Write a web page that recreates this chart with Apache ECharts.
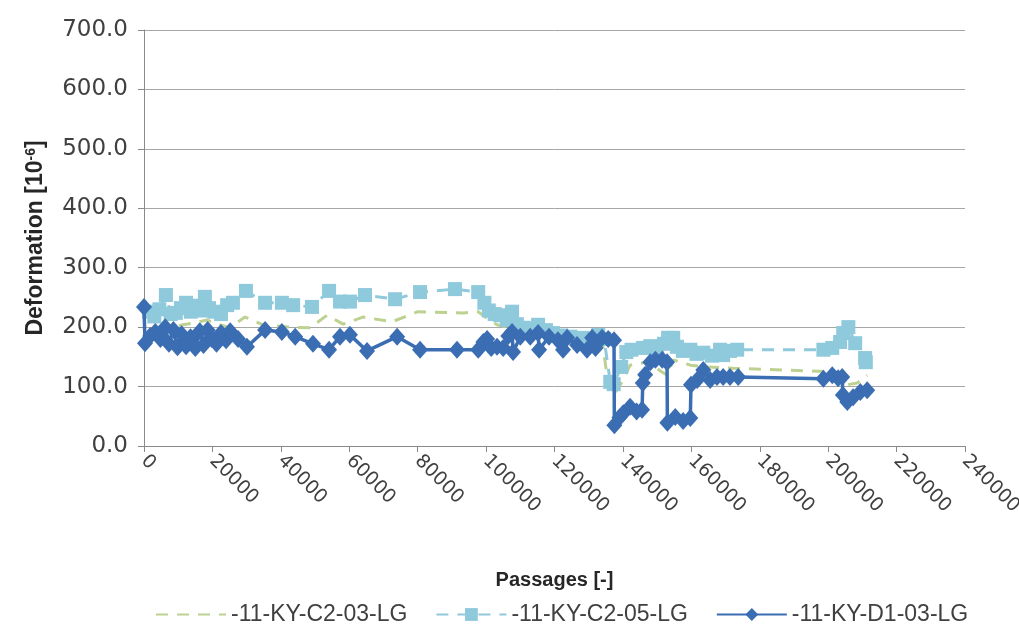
<!DOCTYPE html>
<html>
<head>
<meta charset="utf-8">
<title>Deformation vs Passages</title>
<script src="https://cdn.jsdelivr.net/npm/echarts@6.0.0/dist/echarts.min.js"></script>
<style>
  html, body { margin: 0; padding: 0; background: #fff; }
  #main { width: 1019px; height: 632px; }
</style>
</head>
<body>
<div id="main"></div>
<script>
// -11-KY-C2-03-LG (dashed green, no markers)
const c203X = [0, 2500, 5000, 8000, 11400, 14500, 18400, 21500, 25100, 29500, 34800, 42700, 48500, 53500, 58200, 64000, 72500, 80100, 93300, 97700, 100000, 103200, 107000, 112000, 118000, 124000, 130000, 134000, 136000, 138000, 140100, 142100, 145900, 147400, 150500, 153000, 154700, 159700, 164600, 172200, 200600, 203000, 204500, 205600, 208500, 211400]
const c203Y = [168, 185, 195, 200, 204, 207, 212, 205, 199, 217, 204, 200, 199, 220, 205, 217, 209, 226, 224, 226, 216, 204, 199, 195, 188, 182, 178, 176, 89, 92, 111, 136, 140, 145, 128, 119, 145, 136, 133, 131, 125, 122, 110, 103, 106, 119]

// -11-KY-C2-05-LG (dashed light blue, squares)
const c205X = [1500, 3000, 4500, 6400, 7800, 9300, 10800, 12300, 13700, 15000, 16500, 17800, 19000, 20500, 22500, 24300, 26000, 29800, 35400, 40300, 43600, 49100, 54100, 57300, 60200, 64600, 73400, 80700, 90900, 97700, 99500, 100800, 102500, 104100, 106100, 107600, 109000, 110900, 113000, 115200, 117500, 119600, 122000, 124600, 128000, 130500, 132800, 134500, 136300, 137300, 139500, 141000, 142500, 145900, 148000, 150000, 152000, 153200, 154700, 155800, 157500, 159700, 161500, 163500, 166000, 168400, 169300, 171300, 173400, 198600, 201200, 203500, 204400, 205900, 207900, 210800, 211000]
const c205Y = [226, 218, 230, 254, 222, 224, 232, 241, 226, 236, 228, 251, 232, 226, 222, 237, 241, 261, 241, 241, 237, 234, 261, 243, 243, 254, 247, 259, 264, 259, 241, 228, 222, 220, 212, 226, 205, 199, 198, 204, 195, 190, 186, 184, 182, 180, 187, 180, 108, 104, 133, 158, 162, 165, 168, 162, 172, 182, 182, 167, 160, 162, 155, 157, 152, 162, 153, 160, 162, 162, 165, 175, 190, 200, 173, 148, 141]

// -11-KY-D1-03-LG (solid dark blue, diamonds)
const d103X = [0, 300, 1800, 3300, 4800, 6200, 7300, 8600, 9800, 11000, 12300, 13600, 15000, 16300, 17400, 18600, 19800, 21200, 22500, 24000, 25200, 27500, 30100, 35400, 40300, 44200, 49400, 54100, 57300, 60200, 65200, 74000, 80700, 91500, 97700, 99200, 100300, 101500, 103200, 105000, 106500, 107600, 107900, 110000, 112900, 115200, 115500, 118400, 121000, 122500, 123700, 126600, 129500, 131000, 132000, 133900, 135700, 137400, 137500, 139000, 140100, 142100, 144000, 145600, 145800, 146500, 148000, 149500, 151500, 152900, 153000, 155300, 157600, 159700, 159900, 161700, 163500, 165500, 167500, 169300, 171300, 173700, 198600, 201200, 202900, 204100, 204300, 205600, 207300, 209400, 211400]
const d103Y = [234, 173, 185, 192, 180, 200, 172, 195, 166, 188, 168, 183, 165, 193, 170, 195, 180, 172, 190, 178, 193, 180, 167, 195, 192, 184, 172, 162, 184, 187, 160, 184, 162, 162, 162, 175, 180, 165, 167, 165, 185, 192, 158, 184, 184, 190, 162, 184, 178, 162, 182, 170, 162, 182, 165, 182, 180, 178, 35, 48, 55, 66, 58, 61, 106, 120, 141, 145, 145, 141, 39, 49, 42, 47, 103, 111, 128, 111, 116, 116, 116, 116, 113, 119, 114, 116, 86, 74, 82, 91, 94]

const seriesNames = ['-11-KY-C2-03-LG', '-11-KY-C2-05-LG', '-11-KY-D1-03-LG']

// x/y arrays -> point pairs
function pairs (xs, ys) {
  return xs.map((x, i) => [x, ys[i]])
}

const labelColor = '#404040'
const axisColor = '#8a8a8a'
const titleStyle = {
  fontFamily: 'Liberation Sans',
  fontWeight: 'bold',
  color: '#262626'
}

const option = {
  animation: false,
  backgroundColor: '#fff',
  grid: {
    left: 144,
    right: 54,
    top: 30,
    bottom: 186,
    containLabel: false,
    outerBoundsMode: 'none'
  },
  legend: {
    // green series has no markers, so hide the legend symbol for it
    data: [
      { name: seriesNames[0], itemStyle: { color: 'rgba(0,0,0,0)', borderWidth: 0 } },
      seriesNames[1],
      seriesNames[2]
    ],
    left: 150,
    top: 598,
    itemWidth: 70,
    itemHeight: 16,
    itemGap: 28,
    textStyle: {
      fontFamily: 'Liberation Sans',
      fontSize: 23,
      color: labelColor
    }
  },
  xAxis: {
    type: 'value',
    min: 0,
    max: 240000,
    interval: 20000,
    name: 'Passages [-]',
    nameLocation: 'middle',
    nameGap: 124,
    nameTextStyle: Object.assign({ fontSize: 20 }, titleStyle),
    axisLine: { show: true, lineStyle: { color: axisColor, width: 1 } },
    axisTick: { show: true, length: 6, lineStyle: { color: axisColor } },
    splitLine: { show: false },
    axisLabel: {
      rotate: -45,
      margin: 12,
      fontFamily: 'DejaVu Sans',
      fontSize: 19,
      color: labelColor,
      formatter: function (v) {
        return String(v)
      }
    }
  },
  yAxis: {
    type: 'value',
    min: 0,
    max: 700,
    interval: 100,
    name: '{t|Deformation [10}{s|-6}{t|]}',
    nameLocation: 'middle',
    nameRotate: 90,
    nameGap: 96,
    nameTextStyle: Object.assign({
      fontSize: 23,
      rich: {
        t: Object.assign({ fontSize: 23 }, titleStyle),
        s: Object.assign({ fontSize: 14, verticalAlign: 'top', padding: [0, 0, 10, 0] }, titleStyle)
      }
    }, titleStyle),
    axisLine: { show: true, lineStyle: { color: axisColor, width: 1 } },
    axisTick: { show: true, length: 6, lineStyle: { color: axisColor } },
    splitLine: { show: true, lineStyle: { color: '#a6a6a6', width: 1 } },
    axisLabel: {
      margin: 16,
      fontFamily: 'DejaVu Sans',
      fontSize: 23,
      color: labelColor,
      formatter: function (v) {
        return v.toFixed(1)
      }
    }
  },
  series: [
    {
      name: seriesNames[0],
      type: 'line',
      data: pairs(c203X, c203Y),
      symbol: 'none',
      itemStyle: { color: '#bdd190' },
      lineStyle: { color: '#bdd190', width: 3, type: [12, 9] },
      z: 2
    },
    {
      name: seriesNames[1],
      type: 'line',
      data: pairs(c205X, c205Y),
      symbol: 'rect',
      symbolSize: 14,
      itemStyle: { color: '#8fc9dc' },
      lineStyle: { color: '#8fc9dc', width: 3, type: [12, 9] },
      z: 3
    },
    {
      name: seriesNames[2],
      type: 'line',
      data: pairs(d103X, d103Y),
      symbol: 'diamond',
      symbolSize: [16, 18],
      itemStyle: { color: '#3b6db3' },
      lineStyle: { color: '#3b6db3', width: 3.5 },
      z: 4
    }
  ]
}

const myChart = echarts.init(document.getElementById('main'), null, { renderer: 'canvas' })
myChart.setOption(option)
</script>
</body>
</html>
